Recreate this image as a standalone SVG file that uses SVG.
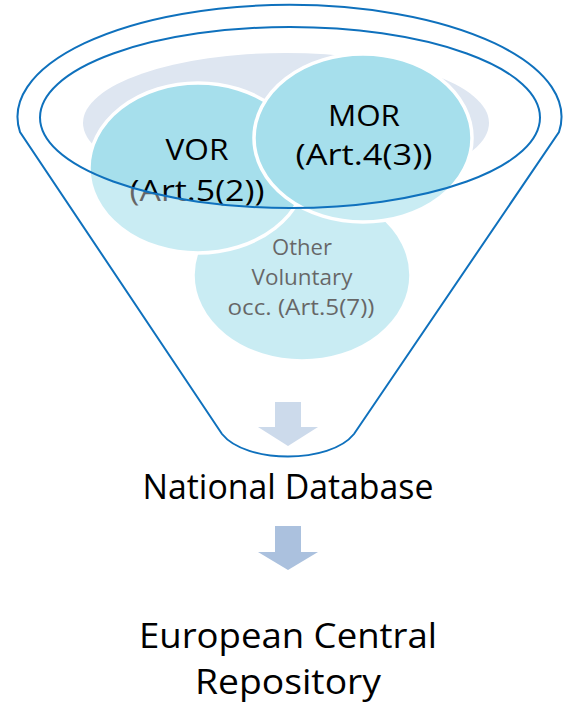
<svg xmlns="http://www.w3.org/2000/svg" width="565" height="706" viewBox="0 0 565 706">
<style>
.t{font-family:"Open Sans","Noto Sans","Liberation Sans",sans-serif;text-anchor:middle;fill:#000}
.big{font-size:35px}
.mid{font-size:30px}
.sm{font-size:22px}
.venn{fill:#A6DFEC;stroke:#fff;stroke-width:3.5}
.outline{fill:none;stroke:#0F71BD;stroke-width:2}
.arrow{fill:#ABC1DE}
</style>
<rect width="565" height="706" fill="#fff"/>
<g id="background">
<ellipse cx="286" cy="123" rx="203" ry="70" fill="#DEE6F1"/>
</g>
<g id="other">
<ellipse class="venn" cx="302" cy="275" rx="109" ry="86"/>
<text class="t sm" x="302" y="255" textLength="60" lengthAdjust="spacingAndGlyphs">Other</text>
<text class="t sm" x="302" y="285" textLength="101" lengthAdjust="spacingAndGlyphs">Voluntary</text>
<text class="t sm" x="301" y="315" textLength="147" lengthAdjust="spacingAndGlyphs">occ. (Art.5(7))</text>
</g>
<g id="vor">
<ellipse class="venn" cx="198" cy="168" rx="109" ry="85"/>
<text class="t mid" x="197" y="160" textLength="63" lengthAdjust="spacingAndGlyphs">VOR</text>
<text class="t mid" x="197" y="201" textLength="135" lengthAdjust="spacingAndGlyphs">(Art.5(2))</text>
</g>
<g id="mor">
<ellipse class="venn" cx="363" cy="138" rx="109" ry="84"/>
<text class="t mid" x="364" y="126" textLength="72" lengthAdjust="spacingAndGlyphs">MOR</text>
<text class="t mid" x="364" y="165" textLength="137" lengthAdjust="spacingAndGlyphs">(Art.4(3))</text>
</g>
<g id="connectors">
<path class="arrow" d="M275,402 H301 V427 H318 L288,446 L258,427 H275 Z"/>
<path class="arrow" d="M275,526 H301 V552 H318 L288,570 L258,552 H275 Z"/>
</g>
<g id="funnel">
<path d="M20,132 A272 112 0 1 1 559,132 L354,434 C330,464 246,464 222,434 Z M40,117.5 A250 90.5 0 1 0 540,117.5 A250 90.5 0 1 0 40,117.5 Z" fill="#fff" fill-opacity="0.4" fill-rule="evenodd"/>
<path class="outline" d="M20,132 A272 112 0 1 1 559,132 L354,434 C330,464 246,464 222,434 Z"/>
<ellipse class="outline" cx="290" cy="117.5" rx="250" ry="90.5"/>
</g>
<g id="national-database">
<text class="t big" x="288" y="499" textLength="291" lengthAdjust="spacingAndGlyphs">National Database</text>
</g>
<g id="european-central-repository">
<text class="t big" x="288" y="648" textLength="298" lengthAdjust="spacingAndGlyphs">European Central</text>
<text class="t big" x="288" y="694" textLength="186" lengthAdjust="spacingAndGlyphs">Repository</text>
</g>
</svg>
